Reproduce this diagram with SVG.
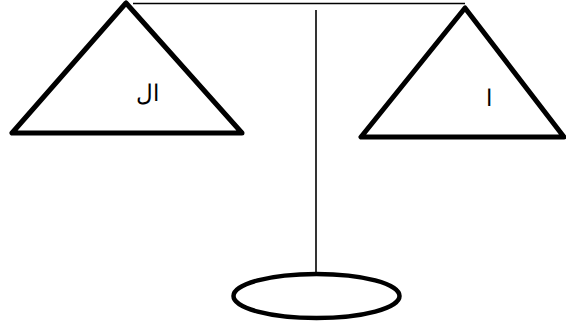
<svg xmlns="http://www.w3.org/2000/svg" width="566" height="325" viewBox="0 0 566 325">
<style>
.pan{fill:none;stroke:#000;stroke-width:5;stroke-linejoin:round;stroke-linecap:round}
.ln{stroke:#000;stroke-width:1.6;fill:none}
.lbl{font-family:"DejaVu Sans","Noto Sans",sans-serif;font-size:23px;fill:#000;font-weight:300}
</style>
<rect width="566" height="325" fill="#fff"/>
<g id="connectors">
<line class="ln" x1="133" y1="3.5" x2="465" y2="3.5"/>
<line class="ln" x1="316" y1="10" x2="316" y2="274"/>
</g>
<g id="left-pan">
<polygon class="pan" points="126,3 12,133 242,133"/>
<text class="lbl" x="147" y="101" text-anchor="middle" direction="rtl">ال</text>
</g>
<g id="right-pan">
<polygon class="pan" points="465,8 361,137 564,137"/>
<text class="lbl" x="489" y="106" text-anchor="middle" direction="rtl">ا</text>
</g>
<g id="base">
<ellipse cx="316.5" cy="296" rx="83" ry="22" fill="none" stroke="#000" stroke-width="4.5"/>
</g>
</svg>
